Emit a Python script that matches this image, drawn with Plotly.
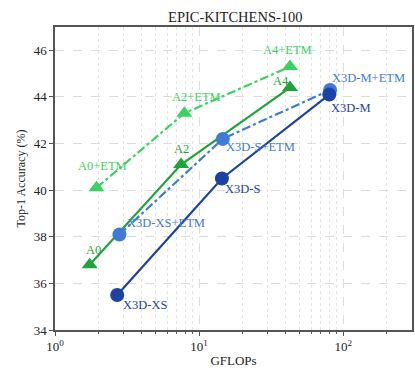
import plotly.graph_objects as go
import numpy as np

# data
x3d_names = ["X3D-XS", "X3D-S", "X3D-M"]
x3d_gflops = [2.7, 14.4, 80]
x3d_acc = [35.5, 40.5, 44.1]

x3d_etm_names = ["X3D-XS+ETM", "X3D-S+ETM", "X3D-M+ETM"]
x3d_etm_gflops = [2.8, 14.6, 81]
x3d_etm_acc = [38.1, 42.2, 44.3]

a_names = ["A0", "A2", "A4"]
a_gflops = [1.74, 7.5, 42.7]
a_acc = [36.8, 41.1, 44.4]

a_etm_names = ["A0+ETM", "A2+ETM", "A4+ETM"]
a_etm_gflops = [1.94, 7.9, 42.7]
a_etm_acc = [40.1, 43.3, 45.3]

x_tickvals = [1, 10, 100]
x_ticktext = ["10<sup>0</sup>", "10<sup>1</sup>", "10<sup>2</sup>"]
y_tickvals = [34, 36, 38, 40, 42, 44, 46]

C_X3D = "#1c43a3"
C_X3D_ETM = "#3f7bd6"
C_A = "#1fa33a"
C_A_ETM = "#3dd160"

FONT = "Liberation Serif, Times New Roman, serif"

fig = go.Figure()

def add_series(xs, ys, color, symbol, dash):
    fig.add_trace(go.Scatter(
        x=xs, y=ys, mode="lines+markers",
        line=dict(color=color, width=2.2, dash=dash),
        marker=dict(color=color, size=14, symbol=symbol),
        showlegend=False,
    ))

add_series(a_etm_gflops, a_etm_acc, C_A_ETM, "triangle-up", "dashdot")
add_series(a_gflops, a_acc, C_A, "triangle-up", "solid")
add_series(x3d_etm_gflops, x3d_etm_acc, C_X3D_ETM, "circle", "dashdot")
add_series(x3d_gflops, x3d_acc, C_X3D, "circle", "solid")

# label placement: (xanchor, yanchor, xshift, yshift)
def label(names, xs, ys, color, place):
    for n, xv, yv, p in zip(names, xs, ys, place):
        xa, ya, dx, dy = p
        fig.add_annotation(x=np.log10(xv), y=yv, text=n, showarrow=False,
                           xanchor=xa, yanchor=ya, xshift=dx, yshift=dy,
                           font=dict(family=FONT, size=12.5, color=color))

label(x3d_names, x3d_gflops, x3d_acc, C_X3D,
      [("left", "top", 4, -1), ("left", "top", 1, -1), ("left", "top", 0, -4)])
label(x3d_etm_names, x3d_etm_gflops, x3d_etm_acc, C_X3D_ETM,
      [("left", "bottom", 6, 2), ("left", "top", 1, 1), ("left", "bottom", 0, 3)])
label(a_names, a_gflops, a_acc, C_A,
      [("center", "bottom", 4, 6), ("center", "bottom", 0, 7), ("right", "middle", 1, 7)])
label(a_etm_names, a_etm_gflops, a_etm_acc, C_A_ETM,
      [("center", "bottom", 6, 13), ("center", "bottom", 12, 7), ("center", "bottom", -2, 8)])

minor_vals = [v * 10 ** e for e in range(0, 3) for v in range(2, 10) if v * 10 ** e < 300]

axis_common = dict(
    showline=True, linecolor="#555555", linewidth=1.5, mirror=True,
    ticks="outside", ticklen=4, tickcolor="#555555",
    gridcolor="#dcdcdc", griddash="dash", gridwidth=0.8,
    zeroline=False,
    tickfont=dict(family=FONT, size=13, color="#222222"),
)

fig.update_xaxes(
    type="log", range=[0, np.log10(300)],
    tickvals=x_tickvals, ticktext=x_ticktext,
    title=dict(text="GFLOPs", font=dict(family=FONT, size=13, color="#222222"), standoff=3),
    minor=dict(tickvals=minor_vals, ticks="outside", ticklen=2, tickcolor="#555555",
               showgrid=True, gridcolor="#e4e4e4", griddash="dot", gridwidth=0.8),
    **axis_common,
)
fig.update_yaxes(
    range=[34, 47], tickvals=y_tickvals,
    title=dict(text="Top-1 Accuracy (%)", font=dict(family=FONT, size=12, color="#222222"), standoff=5),
    **axis_common,
)

fig.update_layout(
    width=415, height=370,
    margin=dict(l=55, r=1, t=27, b=40),
    paper_bgcolor="white", plot_bgcolor="white",
    title=dict(text="EPIC-KITCHENS-100", x=0.567, xanchor="center", y=0.955, yanchor="middle",
               font=dict(family=FONT, size=14.5, color="#222222")),
)

fig.write_html("out.html")
